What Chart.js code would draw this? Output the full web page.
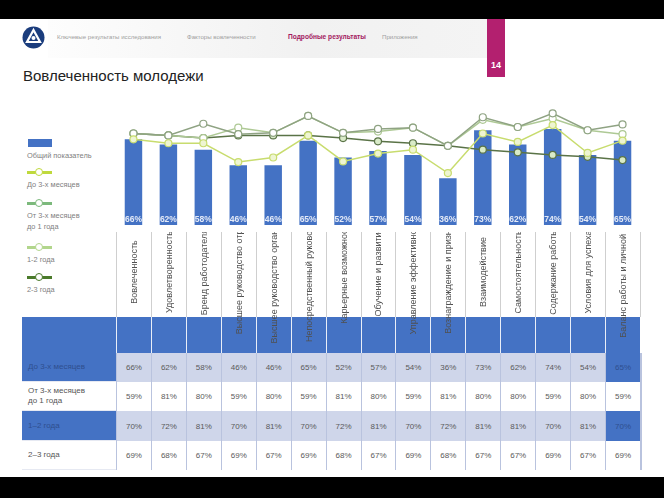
<!DOCTYPE html>
<html lang="ru">
<head>
<meta charset="utf-8">
<script src="https://cdn.jsdelivr.net/npm/chart.js@4.4.1/dist/chart.umd.min.js"></script>
<style>
  html, body { margin: 0; width: 664px; height: 498px; background: #fff; overflow: hidden; }
  #slide { position: relative; width: 664px; height: 498px; background: #fff; overflow: hidden; font-family: "Liberation Sans", Arial, sans-serif; }
  .abs { position: absolute; }
  #topbar { left: 0; top: 0; width: 664px; height: 19px; background: #000; }
  #botbar { left: 0; top: 477px; width: 664px; height: 21px; background: #000; }
  #nav { left: 48px; top: 19px; width: 439px; height: 39px; background: linear-gradient(90deg, #fdfdfd, #f1f1f1 60%, #f4f4f4); }
  .navitem { top: 33px; font-size: 6.1px; color: #a0a0a0; white-space: nowrap; }
  #tab { left: 487px; top: 19px; width: 18px; height: 58px; background: #b3206f; color: #fff; font-weight: bold; font-size: 9px; text-align: center; }
  #title { left: 23px; top: 67px; font-size: 15px; color: #222; white-space: nowrap; }
  .leg { left: 27px; font-size: 7.4px; color: #808080; line-height: 11px; }
  #chartbox { left: 0; top: 90px; width: 664px; height: 145px; }
  .cell { position: absolute; box-sizing: border-box; font-size: 8px; color: #5a5a5a; display: flex; align-items: center; justify-content: center; }
  .rowlab { justify-content: flex-start; padding-left: 6px; line-height: 10px; }
  .catbox { position: absolute; overflow: hidden; }
  .cat { position: absolute; left: 50%; top: 40px; white-space: nowrap; font-size: 9px; color: #505050; transform: translate(-50%, -50%) rotate(-90deg); }
  #rightpad { left: 642px; top: 232px; width: 22px; height: 245px; background: #fff; z-index: 5; }
</style>
</head>
<body>
<div id="slide">
  <div id="topbar" class="abs"></div>
  <div id="nav" class="abs"></div>
  <svg class="abs" style="left:22px;top:26px" width="23" height="23" viewBox="0 0 23 23">
    <circle cx="11.5" cy="11.5" r="11" fill="#1b3d7d"/>
    <path d="M11.5 4 L18 16 L5 16 Z" fill="none" stroke="#fff" stroke-width="2.2"/>
    <circle cx="11.5" cy="12" r="2" fill="#fff"/>
  </svg>
  <div class="abs navitem" style="left:57px">Ключевые результаты исследования</div>
  <div class="abs navitem" style="left:187px">Факторы вовлеченности</div>
  <div class="abs navitem" style="left:288px;color:#a3195f;font-weight:bold;font-size:6.6px">Подробные результаты</div>
  <div class="abs navitem" style="left:382px">Приложения</div>
  <div id="tab" class="abs"><div style="margin-top:41px">14</div></div>
  <div id="title" class="abs">Вовлеченность молодежи</div>
  <div id="legend"></div>
  <div id="chartbox" class="abs"><canvas id="chart" width="664" height="145"></canvas></div>
  <div id="grid"></div>
  <div id="rightpad" class="abs"></div>
  <div id="botbar" class="abs"></div>
</div>
<script>
// категории (ось X)
const categories = ["Вовлеченность", "Удовлетворенность", "Бренд работодателя", "Высшее руководство отрасли",
  "Высшее руководство организации", "Непосредственный руководитель", "Карьерные возможности",
  "Обучение и развитие", "Управление эффективностью", "Вознаграждение и признание", "Взаимодействие",
  "Самостоятельность", "Содержание работы", "Условия для успеха", "Баланс работы и личной жизни"];

// столбцы
const overall = [66, 62, 58, 46, 46, 65, 52, 57, 54, 36, 73, 62, 74, 54, 65];

// линии (оценка по картинке)
const upTo3m = [66, 63, 63, 48.5, 52, 69, 49, 55, 58, 40, 70.5, 64, 77, 55.5, 65];
const from3mTo1y = [70.5, 69, 78, 70, 71, 84, 71, 74, 75, 61, 83, 75.5, 86, 73, 77.5];
const from1to2y = [70.5, 69, 67, 75, 71, 84, 71, 72, 75, 61, 81, 75.5, 82, 73, 70];
const from2to3y = [70.5, 69, 67, 69, 69, 69, 67, 64.5, 63, 61, 58, 56, 54, 52.5, 50];

// таблица
const rowNames = ["До 3-х месяцев", "От 3-х месяцев<br>до 1 года", "1–2 года", "2–3 года"];
const tblUpTo3m = [66, 62, 58, 46, 46, 65, 52, 57, 54, 36, 73, 62, 74, 54, 65];
const tbl3mTo1y = [59, 81, 80, 59, 80, 59, 81, 80, 59, 81, 80, 80, 59, 80, 59];
const tbl1to2y = [70, 72, 81, 70, 81, 70, 72, 81, 70, 72, 81, 81, 70, 81, 70];
const tbl2to3y = [69, 68, 67, 69, 67, 69, 68, 67, 69, 68, 67, 67, 69, 67, 69];

const BLUE = "#4472c4";

function lineSet(label, data, color, fill) {
  return {
    type: "line", label: label, data: data, order: 0,
    borderColor: color, borderWidth: 1.5, tension: 0,
    pointRadius: 3.5, pointBorderWidth: 1.2,
    pointBorderColor: color, pointBackgroundColor: fill,
    clip: false
  };
}

const barLabels = {
  id: "barLabels",
  afterDatasetsDraw(chart) {
    const ctx = chart.ctx;
    const meta = chart.getDatasetMeta(0);
    ctx.save();
    ctx.font = "bold 8.5px 'Liberation Sans', Arial";
    ctx.fillStyle = "#e4eaf7";
    ctx.textAlign = "center";
    ctx.textBaseline = "middle";
    meta.data.forEach((bar, i) => {
      ctx.fillText(overall[i] + "%", bar.x, chart.chartArea.bottom - 5.5);
    });
    ctx.restore();
  }
};

const chart = new Chart(document.getElementById("chart"), {
  type: "bar",
  data: {
    labels: categories,
    datasets: [
      { type: "bar", label: "Общий показатель", data: overall, order: 1,
        backgroundColor: BLUE, barPercentage: 0.5, categoryPercentage: 1.0 },
      lineSet("До 3-х месяцев", upTo3m, "#c8dc6e", "#eef5d2"),
      lineSet("От 3-х месяцев до 1 года", from3mTo1y, "#8fa383", "#ffffff"),
      lineSet("1-2 года", from1to2y, "#aec995", "#ffffff"),
      lineSet("2-3 года", from2to3y, "#5a7347", "#d9ebc8")
    ]
  },
  options: {
    responsive: false,
    devicePixelRatio: 1,
    animation: false,
    layout: { padding: { left: 116, right: 24, top: 5, bottom: 10 } },
    scales: {
      x: { display: false, offset: true },
      y: { display: false, min: 0, max: 100 }
    },
    plugins: { legend: { display: false }, tooltip: { enabled: false } }
  },
  plugins: [barLabels]
});

// легенда слева
const legendItems = [
  { text: "Общий показатель", color: BLUE, bar: true, icon: 143, label: 150 },
  { text: "До 3-х месяцев", color: "#bfd93c", icon: 172, label: 179 },
  { text: "От 3-х месяцев<br>до 1 года", color: "#7cb97c", icon: 203, label: 210 },
  { text: "1-2 года", color: "#b2d68c", icon: 247, label: 254 },
  { text: "2-3 года", color: "#4a7a2a", icon: 277, label: 284 }
];
let legHtml = "";
legendItems.forEach(it => {
  if (it.bar) {
    legHtml += `<div class="abs" style="left:28px;top:${it.icon - 4}px;width:24px;height:8px;background:${it.color}"></div>`;
  } else {
    legHtml += `<div class="abs" style="left:27px;top:${it.icon - 1}px;width:25px;height:2.5px;background:${it.color}"></div>`;
    legHtml += `<div class="abs" style="left:35px;top:${it.icon - 4.5}px;width:6px;height:6px;border-radius:50%;border:1.5px solid ${it.color};background:#fff"></div>`;
  }
  legHtml += `<div class="abs leg" style="top:${it.label}px">${it.text}</div>`;
});
document.getElementById("legend").innerHTML = legHtml;

// таблица под графиком, колонки по шкале X
const xs = chart.scales.x;
const colW = (xs.right - xs.left) / categories.length;
const tblLeft = 22, labW = xs.left - tblLeft;
const rows = [
  { vals: tblUpTo3m, top: 353, h: 29, shade: true },
  { vals: tbl3mTo1y, top: 382, h: 29, shade: false },
  { vals: tbl1to2y, top: 411, h: 30, shade: true },
  { vals: tbl2to3y, top: 441, h: 29, shade: false }
];
let g = "";
// шапка с подписями категорий
categories.forEach((name, i) => {
  const x = xs.left + i * colW;
  g += `<div class="abs" style="left:${x}px;top:232px;width:1px;height:85px;background:#cfcfcf"></div>`;
  g += `<div class="abs" style="left:${x}px;top:317px;width:${colW}px;height:36px;background:${BLUE};border-left:1.5px solid #e9eef8;box-sizing:border-box"></div>`;
  g += `<div class="catbox" style="left:${x + 1}px;top:232px;width:${colW - 1}px;height:121px"><span class="cat">${name}</span></div>`;
});
g += `<div class="abs" style="left:${xs.right}px;top:232px;width:1px;height:85px;background:#cfcfcf"></div>`;
g += `<div class="abs" style="left:${tblLeft}px;top:317px;width:${labW}px;height:36px;background:${BLUE}"></div>`;
rows.forEach((r, ri) => {
  const labBg = r.shade ? BLUE : "#fff";
  const labCol = r.shade ? "#2f4f8f" : "#555";
  g += `<div class="cell rowlab" style="left:${tblLeft}px;top:${r.top}px;width:${labW}px;height:${r.h}px;background:${labBg};color:${labCol};border-bottom:1px solid #e6e9f2">${rowNames[ri]}</div>`;
  r.vals.forEach((v, i) => {
    const x = xs.left + i * colW;
    const last = i === r.vals.length - 1;
    const bg = r.shade ? (last ? BLUE : "#cfd6ea") : "#fff";
    const col = r.shade && last ? "#2f4f8f" : "#5a5a5a";
    g += `<div class="cell" style="left:${x}px;top:${r.top}px;width:${colW}px;height:${r.h}px;background:${bg};color:${col};border-left:1.5px solid #b9c3de">${v}%</div>`;
  });
  g += `<div class="abs" style="left:${xs.right}px;top:${r.top}px;width:1.5px;height:${r.h}px;background:#b9c3de"></div>`;
});
document.getElementById("grid").innerHTML = g;
</script>
</body>
</html>
